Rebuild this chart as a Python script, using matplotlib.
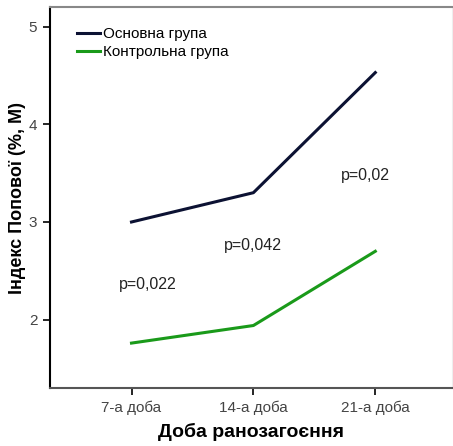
import matplotlib
matplotlib.use("Agg")
import matplotlib.pyplot as plt

categories = ["7-а доба", "14-а доба", "21-а доба"]
main_group = [3.00, 3.30, 4.53]
control_group = [1.76, 1.94, 2.70]
p_labels = ["p=0,022", "p=0,042", "p=0,02"]
p_x = [0.13, 1.0, 1.92]
p_y = [2.36, 2.76, 3.48]
y_ticks = [2, 3, 4, 5]

plt.rcParams['font.family'] = ['Liberation Sans', 'DejaVu Sans']

fig = plt.figure(figsize=(4.53, 4.46), dpi=100)
ax = fig.add_axes([0.110, 0.130, 0.888, 0.854])

x = list(range(len(categories)))
ax.plot(x, main_group, color='#0c1233', lw=2.2, label='Основна група')
ax.plot(x, control_group, color='#1a9a1a', lw=2.2, label='Контрольна група')

for t, px, py in zip(p_labels, p_x, p_y):
    ax.text(px, py, t, ha='center', va='center', fontsize=11.5, color='#222222')

ax.set_xlim(-0.67, 2.63)
ax.set_ylim(1.30, 5.20)
ax.set_xticks(x)
ax.set_xticklabels(categories, fontsize=11, color='#444444')
ax.set_yticks(y_ticks)
ax.set_yticklabels([str(v) for v in y_ticks], fontsize=11, color='#444444')
ax.tick_params(axis='both', length=5, width=1.2, color='black', pad=4)

ax.spines['left'].set_linewidth(1.5)
ax.spines['bottom'].set_linewidth(1.5)
ax.spines['bottom'].set_color('#555555')
ax.spines['top'].set_color('#888888')
ax.spines['top'].set_linewidth(1.5)
ax.spines['right'].set_color('#eeeeee')

ax.set_xlabel('Доба ранозагоєння', fontsize=14, fontweight='bold', labelpad=6)
ax.set_ylabel('Індекс Попової (%, М)', fontsize=13, fontweight='bold', labelpad=2)

leg = ax.legend(loc='upper left', bbox_to_anchor=(0.067, 0.947), frameon=False,
                fontsize=11, handlelength=1.5, handletextpad=0.2,
                labelspacing=0.27, borderaxespad=0.0, borderpad=0.0)

fig.savefig('out.png', dpi=100)
